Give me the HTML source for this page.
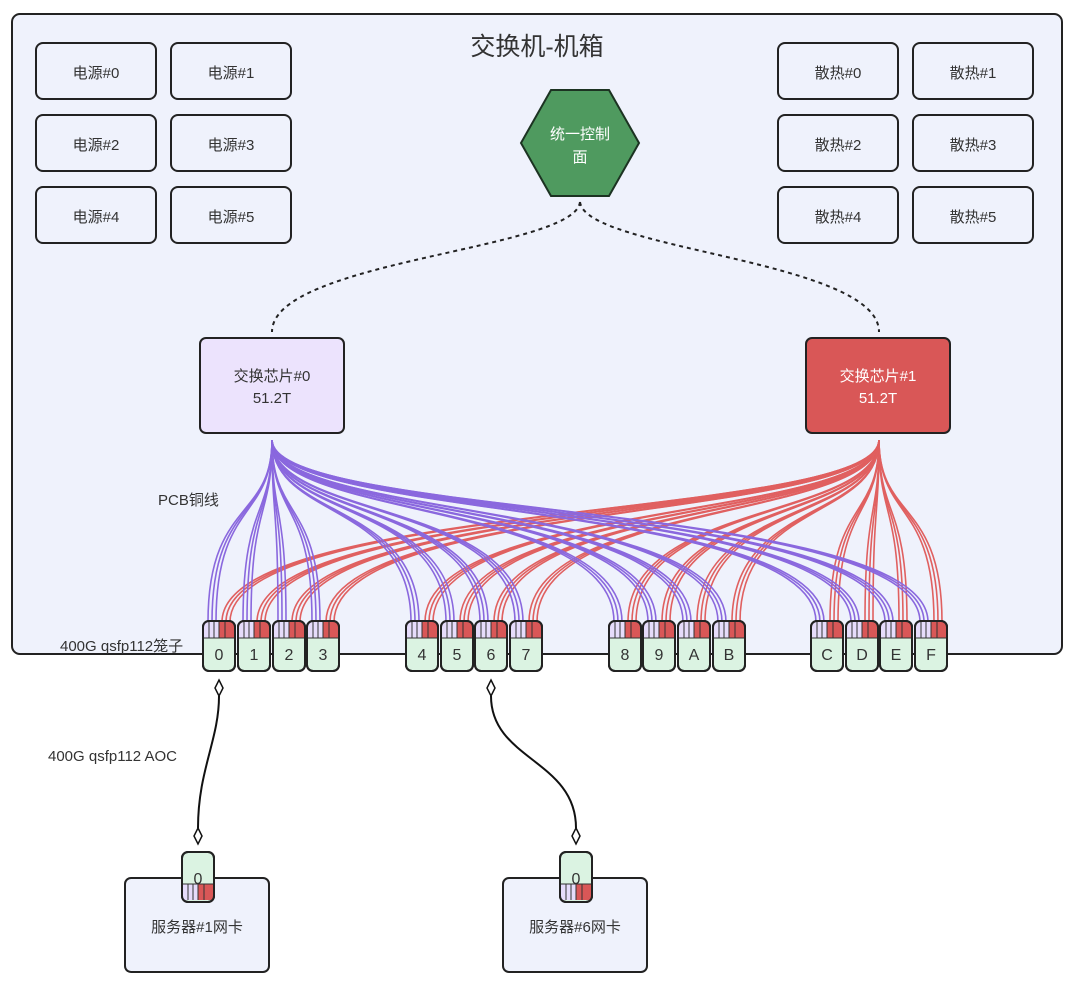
<!DOCTYPE html>
<html><head><meta charset="utf-8"><style>
html,body{margin:0;padding:0;background:#fff;}
body{width:1080px;height:1000px;position:relative;overflow:hidden;font-family:"Liberation Sans","Noto Sans CJK SC",sans-serif;}
</style></head><body>
<svg id="s" width="1080" height="1000" viewBox="0 0 1080 1000" xmlns="http://www.w3.org/2000/svg" style="position:absolute;left:0;top:0">
<rect x="12" y="14" width="1050" height="640" rx="8" fill="#eff2fc" stroke="#222" stroke-width="2"/>
<text x="537" y="55" font-size="25" text-anchor="middle" fill="#333" font-family="Liberation Sans,Noto Sans CJK SC,sans-serif">交换机-机箱</text>
<g id="boxes" font-size="15" fill="#333" font-family="Liberation Sans,Noto Sans CJK SC,sans-serif"></g>
<polygon points="551,90 609,90 639,143 609,196 551,196 521,143" fill="#4f9a5f" stroke="#1c3322" stroke-width="2"/>
<text x="580" y="139" font-size="15" fill="#fff" text-anchor="middle" font-family="Liberation Sans,Noto Sans CJK SC,sans-serif">统一控制</text>
<text x="580" y="162" font-size="15" fill="#fff" text-anchor="middle" font-family="Liberation Sans,Noto Sans CJK SC,sans-serif">面</text>
<path d="M580,202 C575,250 272,260 272,332" fill="none" stroke="#222" stroke-width="2" stroke-dasharray="4,4"/>
<path d="M580,202 C585,250 879,260 879,332" fill="none" stroke="#222" stroke-width="2" stroke-dasharray="4,4"/>
<rect x="200" y="338" width="144" height="95" rx="6" fill="#ece3fd" stroke="#222" stroke-width="2"/>
<text x="272" y="381" font-size="15" fill="#333" text-anchor="middle" font-family="Liberation Sans,Noto Sans CJK SC,sans-serif">交换芯片#0</text>
<text x="272" y="403" font-size="15" fill="#333" text-anchor="middle" font-family="Liberation Sans,Noto Sans CJK SC,sans-serif">51.2T</text>
<rect x="806" y="338" width="144" height="95" rx="6" fill="#d95757" stroke="#222" stroke-width="2"/>
<text x="878" y="381" font-size="15" fill="#fff" text-anchor="middle" font-family="Liberation Sans,Noto Sans CJK SC,sans-serif">交换芯片#1</text>
<text x="878" y="403" font-size="15" fill="#fff" text-anchor="middle" font-family="Liberation Sans,Noto Sans CJK SC,sans-serif">51.2T</text>
<g id="wires" fill="none" stroke-width="1.6"></g>
<text x="158" y="505" font-size="15" fill="#333" font-family="Liberation Sans,Noto Sans CJK SC,sans-serif">PCB铜线</text>
<text x="60" y="651" font-size="15" fill="#333" font-family="Liberation Sans,Noto Sans CJK SC,sans-serif">400G qsfp112笼子</text>
<text x="48" y="761" font-size="15" fill="#333" font-family="Liberation Sans,Noto Sans CJK SC,sans-serif">400G  qsfp112 AOC</text>
<rect x="125" y="878" width="144" height="94" rx="6" fill="#eff2fc" stroke="#222" stroke-width="2"/>
<text x="197" y="932" font-size="15" fill="#333" text-anchor="middle" font-family="Liberation Sans,Noto Sans CJK SC,sans-serif">服务器#1网卡</text>
<rect x="503" y="878" width="144" height="94" rx="6" fill="#eff2fc" stroke="#222" stroke-width="2"/>
<text x="575" y="932" font-size="15" fill="#333" text-anchor="middle" font-family="Liberation Sans,Noto Sans CJK SC,sans-serif">服务器#6网卡</text>
<path d="M219,696 C219,740 198,770 198,828" fill="none" stroke="#111" stroke-width="2"/>
<path d="M491,696 C491,760 576,760 576,828" fill="none" stroke="#111" stroke-width="2"/>
<polygon points="219,680 223,688 219,696 215,688" fill="#fff" stroke="#111" stroke-width="1.5"/>
<polygon points="198,828 202,836 198,844 194,836" fill="#fff" stroke="#111" stroke-width="1.5"/>
<polygon points="491,680 495,688 491,696 487,688" fill="#fff" stroke="#111" stroke-width="1.5"/>
<polygon points="576,828 580,836 576,844 572,836" fill="#fff" stroke="#111" stroke-width="1.5"/>
<g id="ports" font-family="Liberation Sans,Noto Sans CJK SC,sans-serif"></g>
</svg>
<script>
var NS="http://www.w3.org/2000/svg";
function el(p,t,a,txt){var e=document.createElementNS(NS,t);for(var k in a)e.setAttribute(k,a[k]);if(txt!=null)e.textContent=txt;p.appendChild(e);return e;}
var B=document.getElementById("boxes");
var cols=[[36,"电源#",0],[171,"电源#",1],[778,"散热#",0],[913,"散热#",1]];
var rows=[43,115,187];
cols.forEach(function(c){rows.forEach(function(y,i){
 el(B,"rect",{x:c[0],y:y,width:120,height:56,rx:7,fill:"#eff2fc",stroke:"#222","stroke-width":2});
 el(B,"text",{x:c[0]+60,y:y+35,"text-anchor":"middle"},c[1]+(i*2+c[2]));
});});
var xs=[219,254,289,323,422,457,491,526,625,659,694,729,827,862,896,931];
var labels="0123456789ABCDEF";
var W=document.getElementById("wires");
xs.forEach(function(x){
 [-11,-7,-3].forEach(function(o){
  var px=x+o;
  el(W,"path",{d:"M272,440 C272,520 "+px+",500 "+px+",622",stroke:"#8a68de"});
 });
 [3,7,11].forEach(function(o){
  var px=x+o;
  el(W,"path",{d:"M879,440 C879,520 "+px+",500 "+px+",622",stroke:"#e06060"});
 });
});
var P=document.getElementById("ports");
function port(x,y,lbl,flip){
 var g=el(P,"g",{});
 el(g,"rect",{x:x-16,y:y,width:32,height:50,rx:6,fill:"#dbf3e2",stroke:"#222","stroke-width":2});
 var sy=flip?y+32:y+1;
 el(g,"rect",{x:x-15,y:sy,width:15,height:16,fill:"#e6dcfb"});
 el(g,"rect",{x:x,y:sy,width:15,height:16,fill:"#d95757"});
 [-10,-5,0,6].forEach(function(o){el(g,"line",{x1:x+o,y1:sy,x2:x+o,y2:sy+16,stroke:"#333","stroke-width":1});});
 el(g,"line",{x1:x-16,y1:flip?sy:sy+16,x2:x+16,y2:flip?sy:sy+16,stroke:"#333","stroke-width":1});
 el(g,"rect",{x:x-16,y:y,width:32,height:50,rx:6,fill:"none",stroke:"#222","stroke-width":2});
 el(g,"text",{x:x,y:flip?y+32:y+39,"font-size":16,"text-anchor":"middle",fill:"#333"},lbl);
}
xs.forEach(function(x,i){port(x,621,labels[i],false);});
port(198,852,"0",true);
port(576,852,"0",true);
</script>
</body></html>
